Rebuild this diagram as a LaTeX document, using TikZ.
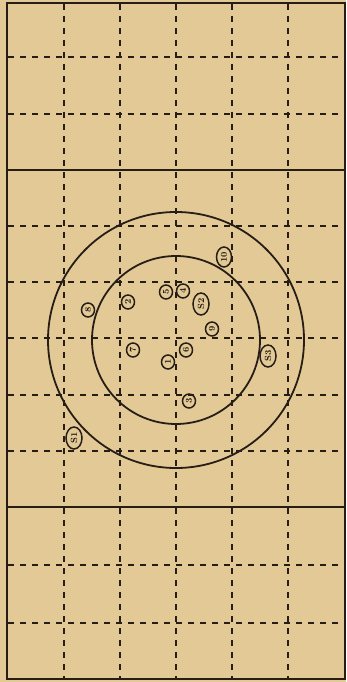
\documentclass[tikz,border=0pt]{standalone}
\usepackage{xcolor}
\usetikzlibrary{shapes.geometric}

\definecolor{paper}{RGB}{226,201,150}
\definecolor{ink}{RGB}{38,30,22}

\begin{document}
\begin{tikzpicture}[
  x=1pt, y=-1pt,
  font=\fontsize{9}{10}\selectfont,
  rule/.style={draw=ink, line width=2pt},
  gridline/.style={draw=ink, line width=1.4pt, dash pattern=on 6pt off 6pt},
  ring/.style={draw=ink, line width=1.8pt},
  shot/.style={draw=ink, ellipse, line width=1.5pt, inner sep=0.5pt, minimum width=14pt,
               minimum height=13pt, rotate=90, text=ink, font=\fontsize{9}{10}\selectfont\bfseries},
  sighter/.style={shot, minimum width=22pt, minimum height=16pt},
]
  % ---------------- paper and frame ----------------
  \fill[paper] (0,0) rectangle (346,682);
  \useasboundingbox (0,0) rectangle (346,682);

  % dashed grid
  \foreach \gx in {64,120,176,232,288}
    \draw[gridline] (\gx,4) -- (\gx,678);
  \foreach \gy in {57,114,226,282,338,395,451,565,623}
    \draw[gridline] (8,\gy) -- (344,\gy);

  % frame and the two solid dividers
  \draw[rule] (7,3) rectangle (345,679);
  \draw[rule] (7,170) -- (345,170);
  \draw[rule] (7,507) -- (345,507);

  % ---------------- target rings ----------------
  \coordinate (ctr) at (176,340);
  \draw[ring] (ctr) circle (128);
  \draw[ring] (ctr) circle (84);

  % ---------------- shot marks ----------------
  \node[sighter] (s1) at (74,438) {S1};
  \node[sighter] (s2) at (201,304) {S2};
  \node[sighter] (s3) at (268,356) {S3};
  \node[sighter, minimum width=20pt, minimum height=15pt] (m10) at (224,257) {10};
  \node[shot] (m1) at (168,362) {1};
  \node[shot] (m2) at (128,302) {2};
  \node[shot] (m3) at (189,401) {3};
  \node[shot] (m4) at (183,291) {4};
  \node[shot] (m5) at (166,292) {5};
  \node[shot] (m6) at (186,350) {6};
  \node[shot] (m7) at (133,350) {7};
  \node[shot] (m8) at (88,310) {8};
  \node[shot] (m9) at (212,329) {9};
\end{tikzpicture}
\end{document}
